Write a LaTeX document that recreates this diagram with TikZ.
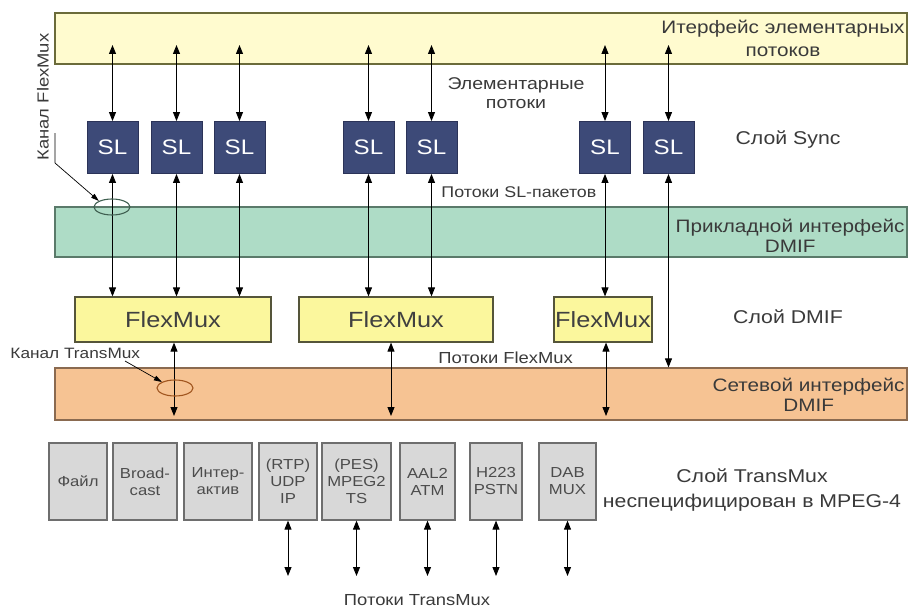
\documentclass[tikz,border=0pt]{standalone}
\usepackage{fontspec}
\setmainfont{Liberation Sans}[FakeStretch=1.15]
\usetikzlibrary{arrows.meta,shapes.geometric}

\definecolor{esfill}{HTML}{FFFBCF}
\definecolor{esline}{HTML}{6B6B3A}
\definecolor{slfill}{HTML}{3D4A78}
\definecolor{slline}{HTML}{2B3358}
\definecolor{apfill}{HTML}{AEDCC6}
\definecolor{apline}{HTML}{5A7A6A}
\definecolor{fmfill}{HTML}{FBF79D}
\definecolor{fmline}{HTML}{55553A}
\definecolor{nwfill}{HTML}{F6C393}
\definecolor{nwline}{HTML}{8A6A50}
\definecolor{tmfill}{HTML}{D8D8D8}
\definecolor{tmline}{HTML}{6E6E6E}
\definecolor{lbltext}{HTML}{3A3A3A}
\definecolor{fmring}{HTML}{3F5F50}
\definecolor{tmring}{HTML}{A0551E}

\begin{document}
\begin{tikzpicture}[x=1pt,y=-1pt,line width=0.9pt,
  flow/.style={{Triangle[length=9pt,width=7pt]}-{Triangle[length=9pt,width=7pt]}},
  ptr/.style={-{Triangle[length=8pt,width=5pt]},line width=0.7pt},
  band/.style={rectangle,line width=1.2pt,minimum width=852pt,inner sep=0pt},
  slbox/.style={rectangle,draw=slline,fill=slfill,text=white,minimum width=51pt,
    minimum height=52pt,font=\fontsize{21}{21}\selectfont},
  fmbox/.style={rectangle,draw=fmline,fill=fmfill,line width=1.2pt,minimum height=45pt,
    inner sep=1pt,text=black!75,font=\fontsize{22}{22}\selectfont},
  tmbox/.style={rectangle,draw=tmline,fill=tmfill,line width=1.2pt,minimum height=77pt,
    inner sep=0pt,align=center,text=black!70,font=\fontsize{14.5}{17}\selectfont},
  lbl/.style={align=center,text=lbltext,inner sep=0pt,font=\fontsize{18.5}{22}\selectfont},
  note/.style={text=lbltext,inner sep=0pt,font=\fontsize{16}{19}\selectfont},
  ring/.style={ellipse,draw=#1,line width=1.1pt,minimum width=36pt,minimum height=16pt,inner sep=0pt}]
\useasboundingbox (0,0) rectangle (909,610);
% interface bands
\node[band,draw=esline,fill=esfill,minimum height=51pt] (es) at (481,38.5) {};
\node[band,draw=apline,fill=apfill,minimum height=50pt] (ap) at (481,232) {};
\node[band,draw=nwline,fill=nwfill,minimum height=52pt] (nw) at (481,394) {};
\node[lbl,anchor=east,font=\fontsize{18}{23}\selectfont] (eslbl) at (905,38.5) {Итерфейс элементарных\\потоков};
\node[lbl,anchor=east,font=\fontsize{18}{20}\selectfont] (aplbl) at (905,236) {Прикладной интерфейс\\DMIF};
\node[lbl,anchor=east,font=\fontsize{18}{20}\selectfont] (nwlbl) at (905,395) {Сетевой интерфейс\\DMIF};
% sync layer
\foreach \n/\x in {1/112.5,2/176.5,3/239.5,4/368.5,5/431.5,6/605,7/668.5}
  \node[slbox] (sl\n) at (\x,147.5) {SL};
\coordinate (estop) at (0,45);
\foreach \n in {1,...,7}
  \draw[flow] (sl\n.north |- estop) -- (sl\n.north);
% dmif layer
\node[fmbox,minimum width=196pt] (fm1) at (173,319.5) {FlexMux};
\node[fmbox,minimum width=194pt] (fm2) at (396,319.5) {FlexMux};
\node[fmbox,minimum width=98pt] (fm3) at (603,319.5) {FlexMux};
\foreach \n/\f in {1/fm1,2/fm1,3/fm1,4/fm2,5/fm2,6/fm3,7/nw}
  \draw[flow] (sl\n.south) -- (sl\n.south |- \f.north);
\coordinate (nwbot) at (0,416);
\draw[flow] ([xshift=1pt]fm1.south) -- ([xshift=1pt]fm1.south |- nwbot);
\draw[flow] ([xshift=-5pt]fm2.south) -- ([xshift=-5pt]fm2.south |- nwbot);
\draw[flow] ([xshift=3pt]fm3.south) -- ([xshift=3pt]fm3.south |- nwbot);
% transmux layer
\foreach \n/\x/\w/\t in {1/78/58/{Файл},2/145/64/{Broad-\\cast},3/218/68/{Интер-\\актив},
    4/288/58/{(RTP)\\UDP\\IP},5/356.5/69/{(PES)\\MPEG2\\TS},6/427.5/55/{AAL2\\ATM},
    7/496/52/{H223\\PSTN},8/567.5/57/{DAB\\MUX}}
  \node[tmbox,minimum width=\w pt] (tm\n) at (\x,481.5) {\t};
\coordinate (tmbot) at (0,576);
\foreach \n in {4,...,8}
  \draw[flow] (tm\n.south) -- (tm\n.south |- tmbot);
% channels
\node[ring=fmring] (chfm) at (112,207) {};
\node[ring=tmring] (chtm) at (175,388) {};
\node[note,rotate=90] (chfmlbl) at (43,97) {Канал FlexMux};
\node[note,anchor=west,font=\fontsize{15}{18}\selectfont] (chtmlbl) at (10,353) {Канал TransMux};
\coordinate (chfmptr) at (55,133);
\coordinate (chtmptr) at (125,361);
\draw[ptr] (chfmptr) -- ++(0,30) -- (chfm.north west);
\draw[ptr] (chtmptr) -- (chtm.north west);
% layer and stream labels
\node[lbl] (synclbl) at (788,140) {Слой Sync};
\node[lbl] (dmiflbl) at (788,317) {Слой DMIF};
\node[lbl,font=\fontsize{18.5}{25}\selectfont] (tmlbl) at (752,490) {Слой TransMux\\неспецифицирован в MPEG-4};
\node[note,align=center,font=\fontsize{17}{19}\selectfont] (eslbl2) at (516,93) {Элементарные\\потоки};
\node[note,anchor=west,font=\fontsize{15.5}{18}\selectfont] (sllbl) at (441,192) {Потоки SL-пакетов};
\node[note,anchor=west] (fmlbl) at (438,358) {Потоки FlexMux};
\node[note] (tmflow) at (417,600) {Потоки TransMux};
\end{tikzpicture}
\end{document}
